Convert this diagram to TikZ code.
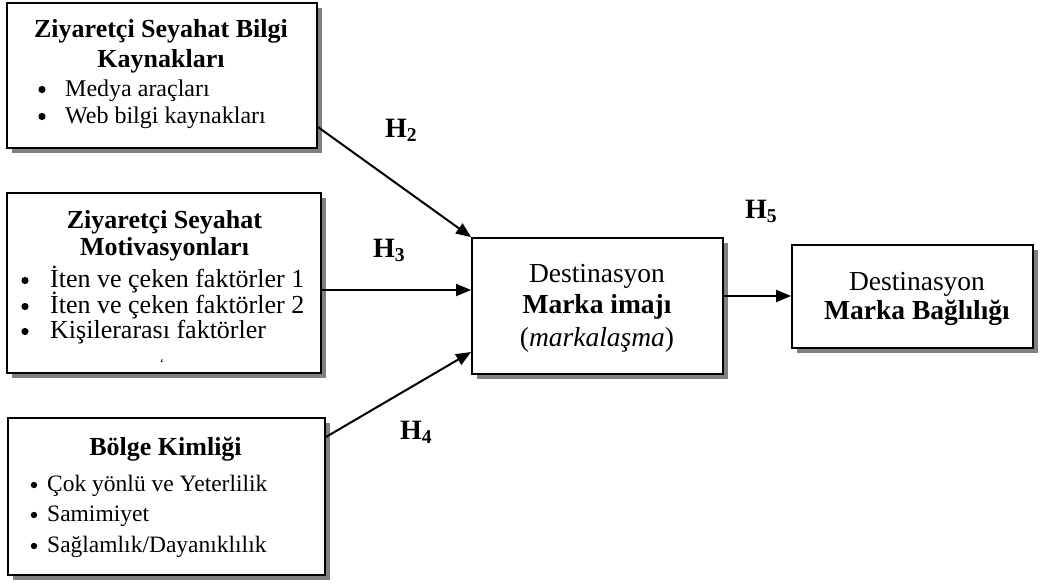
\documentclass[tikz,border=0pt]{standalone}
\usepackage{fontspec}
\setmainfont{Liberation Serif}
\usetikzlibrary{arrows.meta,shadows}
\tikzset{
  box/.style={draw, line width=1.8pt, fill=white, inner sep=0pt,
    drop shadow={shadow xshift=5pt, shadow yshift=-5pt, fill=black!50, opacity=1}},
  ttl/.style={inner sep=0pt, anchor=base, font=\fontsize{26}{30}\selectfont\bfseries},
  itm/.style={inner sep=0pt, anchor=base west},
  mid/.style={inner sep=0pt, anchor=base, font=\fontsize{27.5}{32}\selectfont},
  link/.style={line width=2pt, -{Triangle[length=15pt,width=12pt]}},
  hlab/.style={inner sep=0pt, anchor=base west, font=\fontsize{28}{30}\selectfont\bfseries},
  dot/.style={fill=black},
}
\begin{document}
\begin{tikzpicture}[x=1pt,y=-1pt]
\useasboundingbox (0,0) rectangle (1044,582);

% boxes
\node[box, minimum width=310pt, minimum height=145pt] (src) at (162,75.5) {};
\node[box, minimum width=314pt, minimum height=180pt] (mot) at (164,283) {};
\node[box, minimum width=317pt, minimum height=157pt] (bol) at (166.5,496.5) {};
\node[box, minimum width=251pt, minimum height=136pt] (img) at (597.5,306) {};
\node[box, minimum width=241pt, minimum height=103pt] (bag) at (912.5,296.5) {};

% information sources
\node[ttl] (src1) at (161,37) {Ziyaretçi Seyahat Bilgi};
\node[ttl] (src2) at (161,67) {Kaynakları};
\begin{scope}[every node/.append style={font=\fontsize{24}{28}\selectfont}]
\node[itm] (src3) at (65,96) {Medya araçları};
\node[itm] (src4) at (65,123) {Web bilgi kaynakları};
\end{scope}
\fill[dot] (42,89.5) circle (3.6pt) (42,116.5) circle (3.6pt);

% motivations
\node[ttl] (mot1) at (164.5,228) {Ziyaretçi Seyahat};
\node[ttl] (mot2) at (164.5,255) {Motivasyonları};
\begin{scope}[every node/.append style={font=\fontsize{26}{28}\selectfont}]
\node[itm] (mot3) at (50,287) {İten ve çeken faktörler 1};
\node[itm] (mot4) at (50,313) {İten ve çeken faktörler 2};
\node[itm] (mot5) at (50,338) {Kişilerarası faktörler};
\end{scope}
\fill[dot] (25,280.5) circle (3.6pt) (25,306.5) circle (3.6pt) (25,331.5) circle (3.6pt);
\node[inner sep=0pt, font=\fontsize{14}{14}\selectfont] (mot6) at (162,364) {\symbol{96}};

% regional identity
\node[ttl] (bol1) at (165.5,455) {Bölge Kimliği};
\begin{scope}[every node/.append style={font=\fontsize{23.5}{28}\selectfont}]
\node[itm] (bol2) at (47,491) {Çok yönlü ve Yeterlilik};
\node[itm] (bol3) at (47,521) {Samimiyet};
\node[itm] (bol4) at (47,552) {Sağlamlık/Dayanıklılık};
\end{scope}
\fill[dot] (34,485) circle (3.2pt) (34,515) circle (3.2pt) (34,546) circle (3.2pt);

% brand image
\node[mid] (img1) at (597,282) {Destinasyon};
\node[mid] (img2) at (597,313) {\textbf{Marka imajı}};
\node[mid] (img3) at (597,346) {(\textit{markalaşma})};

% brand loyalty
\node[mid] (bag1) at (917,290) {Destinasyon};
\node[mid] (bag2) at (917,319) {\textbf{Marka Bağlılığı}};

% paths
\draw[link] ([yshift=-51.5pt]src.east) -- (img.north west);
\draw[link] ([yshift=-7pt]mot.east) -- ([yshift=-7pt]mot.east -| img.west);
\draw[link] ([yshift=59.5pt]bol.east) -- ([yshift=-46pt]img.west);
\draw[link] ([yshift=10pt]img.east) -- ([yshift=10pt]img.east -| bag.west);

% hypothesis labels
\node[hlab] (h2) at (385,137) {H\textsubscript{2}};
\node[hlab] (h3) at (373,257) {H\textsubscript{3}};
\node[hlab] (h4) at (400,439) {H\textsubscript{4}};
\node[hlab] (h5) at (745,218) {H\textsubscript{5}};
\end{tikzpicture}
\end{document}
